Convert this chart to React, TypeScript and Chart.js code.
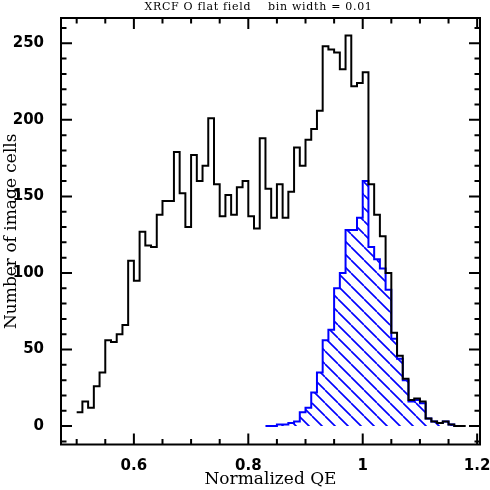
import React, { useEffect, useRef } from 'react';
import { Chart, registerables } from 'chart.js';

Chart.register(...registerables);

const chartTitle = 'XRCF O flat field    bin width = 0.01';
const xAxisTitle = 'Normalized QE';
const yAxisTitle = 'Number of image cells';

const binWidth = 0.01;

// All image cells, bins starting at 0.50
const allCellsStart = 0.5;
const allCellsCounts = [
  9, 16, 12, 26, 35, 56, 55, 60, 66, 108,
  95, 127, 118, 117, 138, 147, 147, 179, 152, 130,
  177, 160, 170, 201, 158, 137, 151, 138, 156, 160,
  137, 129, 188, 155, 136, 158, 136, 153, 182, 170,
  187, 194, 206, 248, 246, 244, 233, 255, 222, 224,
  231, 158, 138, 124, 100, 61, 46, 31, 17, 18,
  16, 5, 3, 2, 3, 1, 0, 0,
];

// Selected subset (hatched blue), bins starting at 0.83
const subsetStart = 0.83;
const subsetCounts = [
  0, 0, 1, 1, 2, 3, 9,
  12, 22, 35, 56, 63, 90, 100, 128, 128, 136,
  160, 117, 109, 103, 89, 57, 44, 30, 16, 17,
  15, 5, 3, 2, 3, 1, 0,
];

const xMajorTicks = [0.6, 0.8, 1.0, 1.2];
const xTickLabels = ['0.6', '0.8', '1', '1.2'];
const xMinorTicks = [0.5, 0.55, 0.65, 0.7, 0.75, 0.85, 0.9, 0.95, 1.05, 1.1, 1.15];
const yMajorTicks = [0, 50, 100, 150, 200, 250];
const yTickLabels = ['0', '50', '100', '150', '200', '250'];
const yMinorTicks = [-10, 10, 20, 30, 40, 60, 70, 80, 90, 110, 120, 130, 140, 160, 170, 180, 190, 210, 220, 230, 240, 260];

const xMin = 0.4726;
const xMax = 1.205;
const yMin = -12;
const yMax = 266.5;

function toSteps(start: number, counts: number[]) {
  const pts = counts.map((c, i) => ({ x: start + i * binWidth, y: c }));
  pts.push({ x: start + counts.length * binWidth, y: counts[counts.length - 1] });
  return pts;
}

function makeHatch(): CanvasPattern | string {
  const size = 13;
  const c = document.createElement('canvas');
  c.width = size;
  c.height = size;
  const g = c.getContext('2d');
  if (!g) return 'rgba(0,0,255,0.3)';
  g.strokeStyle = '#0000ff';
  g.lineWidth = 1.6;
  g.beginPath();
  for (let k = -1; k <= 1; k++) {
    g.moveTo(k * size, 0);
    g.lineTo(k * size + size, size);
  }
  g.stroke();
  const p = g.createPattern(c, 'repeat');
  return p || 'rgba(0,0,255,0.3)';
}

const axesFrame = {
  id: 'axesFrame',
  afterDatasetsDraw(chart: any) {
    const { ctx, chartArea: a } = chart;
    const xs = chart.scales.x;
    const ys = chart.scales.y;
    const major = 11;
    const minor = 5.5;
    ctx.save();
    ctx.strokeStyle = '#000';
    ctx.lineWidth = 2;
    ctx.lineCap = 'butt';
    ctx.beginPath();
    const xt = (vals: number[], len: number) =>
      vals.forEach((v) => {
        const p = xs.getPixelForValue(v);
        ctx.moveTo(p, a.bottom);
        ctx.lineTo(p, a.bottom - len);
        ctx.moveTo(p, a.top);
        ctx.lineTo(p, a.top + len);
      });
    const yt = (vals: number[], len: number) =>
      vals.forEach((v) => {
        const p = ys.getPixelForValue(v);
        ctx.moveTo(a.left, p);
        ctx.lineTo(a.left + len, p);
        ctx.moveTo(a.right, p);
        ctx.lineTo(a.right - len, p);
      });
    xt(xMajorTicks, major);
    xt(xMinorTicks, minor);
    yt(yMajorTicks, major);
    yt(yMinorTicks, minor);
    ctx.stroke();
    ctx.strokeRect(a.left, a.top, a.right - a.left, a.bottom - a.top);
    ctx.restore();
  },
};

const plotTitle = {
  id: 'plotTitle',
  afterDraw(chart: any) {
    const { ctx, chartArea: a } = chart;
    ctx.save();
    ctx.font = '11px "DejaVu Serif"';
    try {
      (ctx as any).letterSpacing = '0.7px';
    } catch (e) {
      /* ignore */
    }
    ctx.fillStyle = '#000';
    ctx.textAlign = 'center';
    ctx.textBaseline = 'middle';
    ctx.fillText(chartTitle, (a.left + a.right) / 2 - 12, a.top - 11);
    ctx.restore();
  },
};

export default function App() {
  const ref = useRef<HTMLCanvasElement | null>(null);

  useEffect(() => {
    document.body.style.margin = '0';
    const canvas = ref.current;
    if (!canvas) return;
    const hatch = makeHatch();
    const tickFont = { family: '"DejaVu Sans"', size: 15, weight: 'bold' as const };
    const titleFont = { family: '"DejaVu Serif"', size: 17 };
    const chart = new Chart(canvas, {
      type: 'line',
      data: {
        datasets: [
          {
            label: 'all cells',
            data: toSteps(allCellsStart, allCellsCounts),
            stepped: 'before',
            borderColor: '#000000',
            borderWidth: 2,
            pointRadius: 0,
            fill: false,
            borderJoinStyle: 'miter',
            order: 0,
          },
          {
            label: 'subset',
            data: toSteps(subsetStart, subsetCounts),
            stepped: 'before',
            borderColor: '#0000ff',
            borderWidth: 2,
            pointRadius: 0,
            fill: 'origin',
            backgroundColor: hatch as any,
            borderJoinStyle: 'miter',
            order: 1,
          },
        ],
      },
      options: {
        animation: false,
        responsive: false,
        maintainAspectRatio: false,
        layout: { padding: { top: 18, right: 10, left: 0, bottom: 0 } },
        plugins: {
          legend: { display: false },
          tooltip: { enabled: false },
          title: { display: false },
        },
        scales: {
          x: {
            type: 'linear',
            min: xMin,
            max: xMax,
            grid: { display: false },
            border: { display: false },
            afterBuildTicks: (s: any) => {
              s.ticks = xMajorTicks.map((v) => ({ value: v }));
            },
            afterFit: (s: any) => {
              s.height = 45.5;
              s.paddingLeft = 0;
              s.paddingRight = 0;
            },
            ticks: {
              autoSkip: false,
              maxRotation: 0,
              padding: 5,
              color: '#000',
              font: tickFont,
              callback: (_v: any, i: number) => xTickLabels[i],
            },
            title: {
              display: true,
              text: xAxisTitle,
              color: '#000',
              font: titleFont,
              padding: { top: 0, bottom: 0 },
            },
          },
          y: {
            type: 'linear',
            min: yMin,
            max: yMax,
            grid: { display: false },
            border: { display: false },
            afterBuildTicks: (s: any) => {
              s.ticks = yMajorTicks.map((v) => ({ value: v }));
            },
            afterFit: (s: any) => {
              s.width = 61;
              s.paddingTop = 0;
              s.paddingBottom = 0;
            },
            ticks: {
              autoSkip: false,
              padding: 9,
              color: '#000',
              font: tickFont,
              callback: (_v: any, i: number) => yTickLabels[i],
            },
            title: {
              display: true,
              text: yAxisTitle,
              color: '#000',
              font: titleFont,
              padding: { top: 1, bottom: 0 },
            },
          },
        },
      },
      plugins: [axesFrame, plotTitle],
    } as any);
    return () => chart.destroy();
  }, []);

  return (
    <div style={{ width: 490, height: 490, background: '#fff' }}>
      <canvas ref={ref} width={490} height={490} style={{ display: 'block', width: 490, height: 490 }} />
    </div>
  );
}
